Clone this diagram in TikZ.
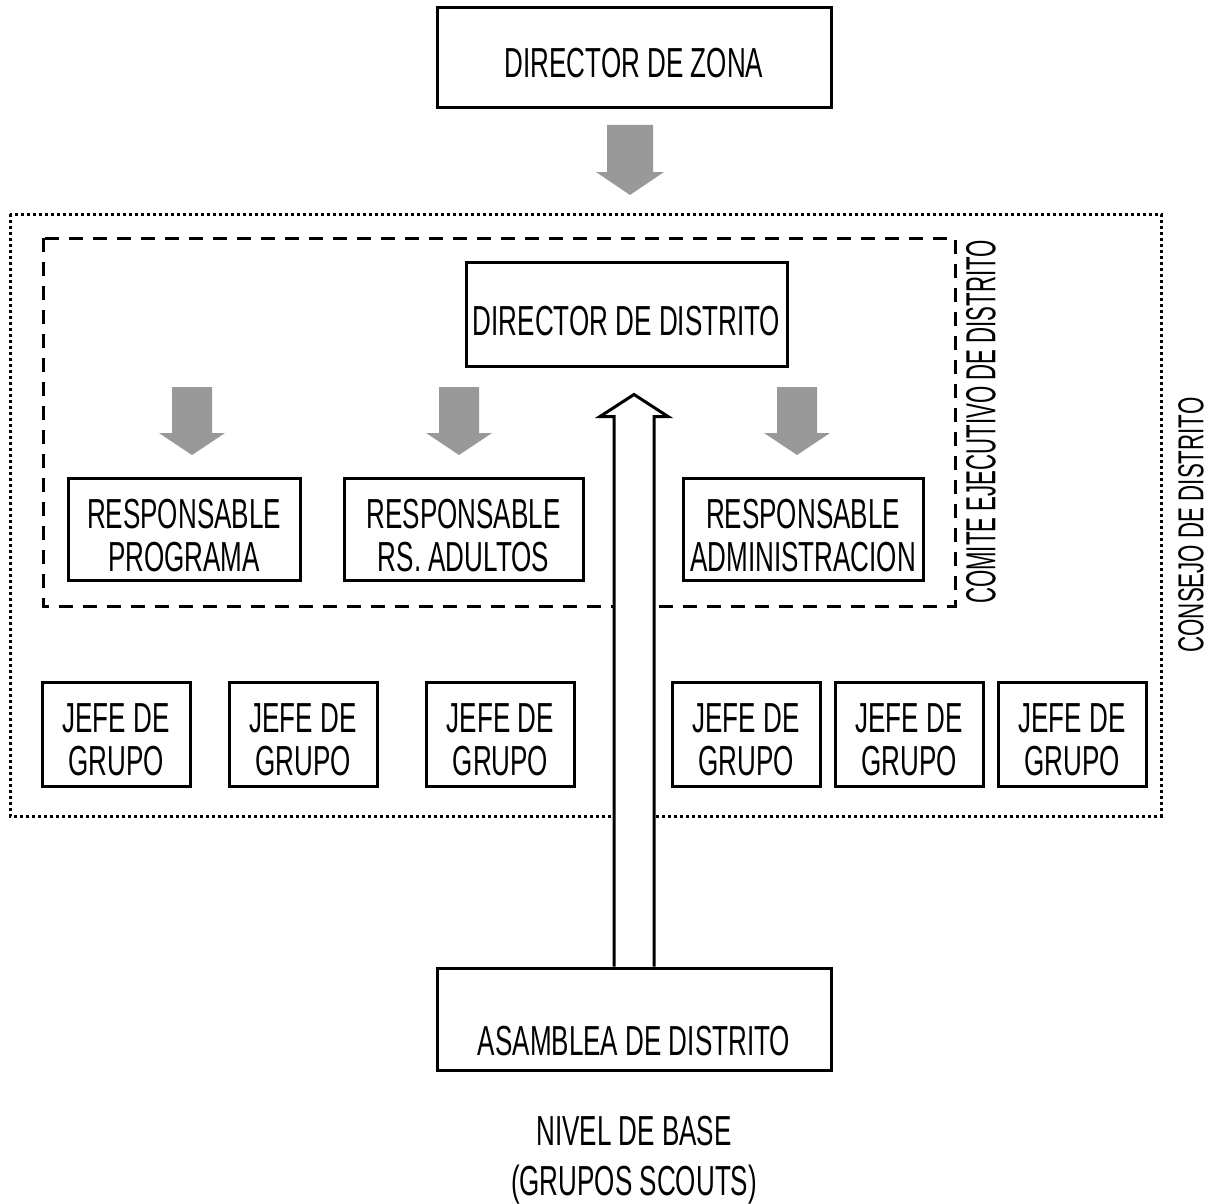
\documentclass[tikz,border=0pt]{standalone}
\usepackage{fontspec}
\setmainfont{Liberation Sans}[FakeStretch=0.62]
\usetikzlibrary{calc}
\newcommand{\lowtxt}[2][5.8pt]{\raisebox{-#1}[\height][\depth]{\begin{tabular}{@{}c@{}}#2\end{tabular}}}
\begin{document}
\begin{tikzpicture}[x=0.5pt,y=-0.5pt,
  box/.style={draw=black,line width=1.5pt,fill=white,align=center,inner sep=0pt,
    font=\fontsize{21}{21.5}\selectfont},
  lbl/.style={align=center,inner sep=0pt,font=\fontsize{21}{25}\selectfont},
  vlbl/.style={rotate=90,inner sep=0pt},
  grayarr/.style={fill=black!40},
  jefe/.style={box,minimum width=74pt,minimum height=52pt},
  resp/.style={box,minimum height=51pt}]
\useasboundingbox (0,0) rectangle (1210,1204);
% frames
\draw[line width=1.5pt,dash pattern=on 1.5pt off 1.5pt] (10,214) rectangle (1161,816);
\draw[line width=1.5pt,dash pattern=on 7pt off 5pt] (43,238) rectangle (955,606);
% top boxes
\node[box,minimum width=197pt,minimum height=50pt] (zona) at (634,58) {\lowtxt[5.3pt]{DIRECTOR DE ZONA}};
\node[box,minimum width=160.5pt,minimum height=52pt] (dist) at (626.5,314) {\lowtxt[6.3pt]{DIRECTOR DE DISTRITO}};
% responsables
\node[resp,minimum width=116pt] (prog) at (184,529) {\lowtxt[6.3pt]{RESPONSABLE\\PROGRAMA}};
\node[resp,minimum width=119.5pt] (adul) at (463.5,529) {\lowtxt[6.3pt]{RESPONSABLE\\RS. ADULTOS}};
\node[resp,minimum width=120pt] (admi) at (803,529) {\lowtxt[6.3pt]{RESPONSABLE\\ADMINISTRACION}};
% jefes
\node[jefe] (j1) at (116,734) {\lowtxt[5.5pt]{JEFE DE\\GRUPO}};
\node[jefe] (j2) at (303,734) {\lowtxt[5.5pt]{JEFE DE\\GRUPO}};
\node[jefe] (j3) at (500.5,734) {\lowtxt[5.5pt]{JEFE DE\\GRUPO}};
\node[jefe] (j4) at (746,734) {\lowtxt[5.5pt]{JEFE DE\\GRUPO}};
\node[jefe] (j5) at (909,734) {\lowtxt[5.5pt]{JEFE DE\\GRUPO}};
\node[jefe] (j6) at (1072,734) {\lowtxt[5.5pt]{JEFE DE\\GRUPO}};
% asamblea
\node[box,minimum width=197pt,minimum height=51pt] (asm) at (634,1019) {\lowtxt[13.75pt]{ASAMBLEA DE DISTRITO}};
\node[lbl] (base) at (634,1160) {NIVEL DE BASE\\(GRUPOS SCOUTS)};
% vertical labels
\node[vlbl,font=\fontsize{21}{21}\selectfont] (cedl) at (981,422) {\scalebox{0.853}[1]{COMITE EJECUTIVO DE DISTRITO}};
\node[vlbl,font=\fontsize{18}{18}\selectfont] (cdl) at (1191,525) {CONSEJO DE DISTRITO};
% gray arrows
\fill[grayarr] (607,125) -- (653,125) -- (653,172) -- (664,172) -- (630,195) -- (596,172) -- (607,172) -- cycle;
\foreach \c in {192,459,797}{
  \fill[grayarr] (\c-20,387) -- (\c+20,387) -- (\c+20,433) -- (\c+33,433) -- (\c,455) -- (\c-33,433) -- (\c-20,433) -- cycle;
}
% hollow arrow from asamblea to director de distrito
\coordinate (tip) at ($(dist.south -| asm.north)+(0,27)$);
\filldraw[fill=white,line width=1.5pt,line join=miter]
  ($(asm.north)+(-20,0)$) -- ($(tip)+(-20,22)$) -- ($(tip)+(-34,22)$) -- (tip)
  -- ($(tip)+(34,22)$) -- ($(tip)+(20,22)$) -- ($(asm.north)+(20,0)$);
\end{tikzpicture}
\end{document}
